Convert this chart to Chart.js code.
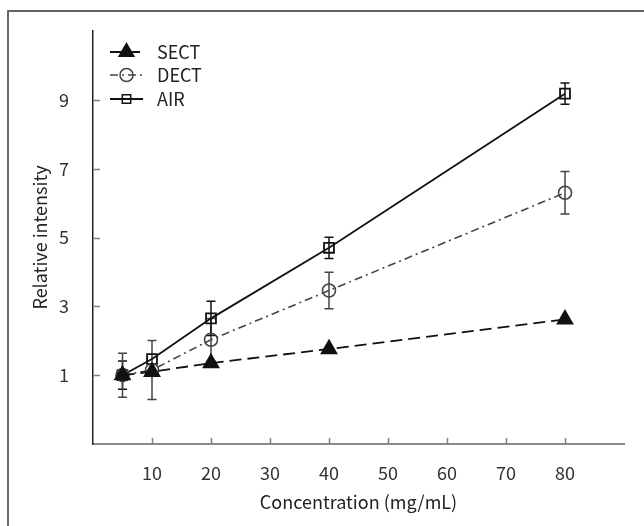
<!DOCTYPE html>
<html>
<head>
<meta charset="utf-8">
<script src="https://cdn.jsdelivr.net/npm/chart.js@4.4.1/dist/chart.umd.min.js"></script>
<style>
  html, body { margin: 0; padding: 0; background: #fff; }
  #wrap { width: 644px; height: 526px; }
</style>
</head>
<body>
<div id="wrap"><canvas id="chart" width="644" height="526"></canvas></div>
<script>
// values
const concentrations = [5, 10, 20, 40, 80];
const sectValues = [1.0, 1.1, 1.35, 1.76, 2.62];
const sectErrors = [0.41, 0, 0, 0, 0];
const dectValues = [1.0, 1.15, 2.03, 3.46, 6.3];
const dectErrors = [0.64, 0.86, 0.62, 0.53, 0.62];
const airValues = [1.0, 1.47, 2.65, 4.7, 9.18];
const airErrors = [0, 0, 0.5, 0.31, 0.31];
const xTicks = [10, 20, 30, 40, 50, 60, 70, 80];
const yTicks = [1, 3, 5, 7, 9];
const seriesNames = ['SECT', 'DECT', 'AIR'];

const FONT = '"Noto Sans CJK SC", "Noto Sans", sans-serif';
const seriesErrors = [sectErrors, dectErrors, airErrors];

function toPoints(values) {
    return concentrations.map((c, i) => ({x: c, y: values[i]}));
}

function drawMarker(ctx, style, r, x, y, fill, stroke) {
    ctx.save();
    ctx.beginPath();
    if (style === 'triangle') {
        ctx.moveTo(x, y - r);
        ctx.lineTo(x + r * Math.sin(2 * Math.PI / 3), y - r * Math.cos(2 * Math.PI / 3));
        ctx.lineTo(x + r * Math.sin(4 * Math.PI / 3), y - r * Math.cos(4 * Math.PI / 3));
        ctx.closePath();
    } else if (style === 'rect') {
        const s = r * Math.SQRT1_2;
        ctx.rect(x - s, y - s, 2 * s, 2 * s);
    } else {
        ctx.arc(x, y, r, 0, 2 * Math.PI);
    }
    ctx.setLineDash([]);
    ctx.lineWidth = 1.5;
    ctx.strokeStyle = stroke;
    if (fill !== 'transparent') {
        ctx.fillStyle = fill;
        ctx.fill();
    }
    ctx.stroke();
    ctx.restore();
}

// white panel with the top/left frame of the original figure
const panel = {
    id: 'panel',
    beforeDraw(chart) {
        const ctx = chart.ctx;
        ctx.save();
        ctx.fillStyle = '#fff';
        ctx.fillRect(0, 0, chart.width, chart.height);
        ctx.strokeStyle = '#666';
        ctx.lineWidth = 2;
        ctx.beginPath();
        ctx.moveTo(8, chart.height);
        ctx.lineTo(8, 11);
        ctx.lineTo(chart.width, 11);
        ctx.stroke();
        ctx.restore();
    }
};

// tick marks point into the plot
const innerTicks = {
    id: 'innerTicks',
    beforeDatasetsDraw(chart) {
        const {ctx, scales: {x, y}, chartArea} = chart;
        ctx.save();
        ctx.strokeStyle = '#808080';
        ctx.lineWidth = 1.5;
        ctx.beginPath();
        for (const v of xTicks) {
            const px = Math.round(x.getPixelForValue(v)) + 0.5;
            ctx.moveTo(px, chartArea.bottom);
            ctx.lineTo(px, chartArea.bottom - 6);
        }
        for (const v of yTicks) {
            const py = Math.round(y.getPixelForValue(v)) + 0.5;
            ctx.moveTo(chartArea.left, py);
            ctx.lineTo(chartArea.left + 7, py);
        }
        ctx.stroke();
        ctx.restore();
    }
};

const errorBars = {
    id: 'errorBars',
    beforeDatasetsDraw(chart) {
        const {ctx, scales: {x, y}} = chart;
        ctx.save();
        ctx.lineWidth = 1.5;
        chart.data.datasets.forEach((ds, i) => {
            ctx.strokeStyle = ds.borderColor;
            seriesErrors[i].forEach((err, j) => {
                if (!err) return;
                const v = ds.data[j].y;
                const px = x.getPixelForValue(concentrations[j]);
                const top = y.getPixelForValue(v + err);
                const bot = y.getPixelForValue(v - err);
                ctx.beginPath();
                ctx.moveTo(px, top);
                ctx.lineTo(px, bot);
                ctx.moveTo(px - 4.5, top);
                ctx.lineTo(px + 4.5, top);
                ctx.moveTo(px - 4.5, bot);
                ctx.lineTo(px + 4.5, bot);
                ctx.stroke();
            });
        });
        ctx.restore();
    }
};

// legend with line sample and marker, like the original
const lineLegend = {
    id: 'lineLegend',
    afterDraw(chart) {
        const ctx = chart.ctx;
        const x0 = 110, x1 = 143, tx = 157;
        const rows = [52, 75, 99];
        ctx.save();
        chart.data.datasets.forEach((ds, i) => {
            const yy = rows[i];
            ctx.strokeStyle = ds.borderColor;
            ctx.lineWidth = ds.borderWidth;
            ctx.setLineDash(ds.borderDash || []);
            ctx.beginPath();
            ctx.moveTo(x0, yy);
            ctx.lineTo(x1, yy);
            ctx.stroke();
            drawMarker(ctx, ds.pointStyle, ds.pointRadius * (ds.pointStyle === 'rect' ? 0.85 : 1),
                (x0 + x1) / 2, yy, ds.pointBackgroundColor, ds.pointBorderColor);
            ctx.setLineDash([]);
            ctx.fillStyle = '#222';
            ctx.font = '18px ' + FONT;
            ctx.textBaseline = 'middle';
            ctx.fillText(seriesNames[i], tx, yy);
        });
        ctx.restore();
    }
};

new Chart(document.getElementById('chart'), {
    type: 'line',
    data: {
        datasets: [{
            label: seriesNames[0],
            data: toPoints(sectValues),
            borderColor: '#111',
            borderWidth: 1.8,
            borderDash: [12, 6],
            pointStyle: 'triangle',
            pointRadius: 8.5,
            pointBackgroundColor: '#111',
            pointBorderColor: '#111'
        }, {
            label: seriesNames[1],
            data: toPoints(dectValues),
            borderColor: '#444',
            borderWidth: 1.6,
            borderDash: [8, 4, 2, 4],
            pointStyle: 'circle',
            pointRadius: 6.5,
            pointBackgroundColor: 'transparent',
            pointBorderColor: '#444'
        }, {
            label: seriesNames[2],
            data: toPoints(airValues),
            borderColor: '#111',
            borderWidth: 1.8,
            pointStyle: 'rect',
            pointRadius: 7,
            pointBackgroundColor: 'transparent',
            pointBorderColor: '#111'
        }]
    },
    options: {
        responsive: false,
        devicePixelRatio: 1,
        animation: false,
        layout: {
            padding: {top: 31, right: 20, left: 0, bottom: 0}
        },
        plugins: {
            legend: {display: false},
            tooltip: {enabled: false}
        },
        scales: {
            x: {
                type: 'linear',
                min: 0,
                max: 90,
                afterBuildTicks: (scale) => { scale.ticks = xTicks.map(v => ({value: v})); },
                afterFit: (scale) => { scale.height = 82; },
                grid: {display: false},
                border: {display: true, color: '#8a8a8a', width: 2},
                ticks: {
                    color: '#333',
                    padding: 10,
                    maxRotation: 0,
                    font: {family: FONT, size: 18}
                },
                title: {
                    display: true,
                    text: 'Concentration (mg/mL)',
                    color: '#222',
                    padding: {top: 0, bottom: 13},
                    font: {family: FONT, size: 18}
                }
            },
            y: {
                min: -1,
                max: 11,
                afterBuildTicks: (scale) => { scale.ticks = yTicks.map(v => ({value: v})); },
                afterFit: (scale) => { scale.width = 93; },
                grid: {display: false},
                border: {display: true, color: '#222', width: 1.5},
                ticks: {
                    color: '#333',
                    padding: 16,
                    font: {family: FONT, size: 18}
                },
                title: {
                    display: true,
                    text: 'Relative intensity',
                    color: '#222',
                    padding: {top: 29, bottom: 0},
                    font: {family: FONT, size: 18}
                }
            }
        }
    },
    plugins: [panel, innerTicks, errorBars, lineLegend]
});
</script>
</body>
</html>
